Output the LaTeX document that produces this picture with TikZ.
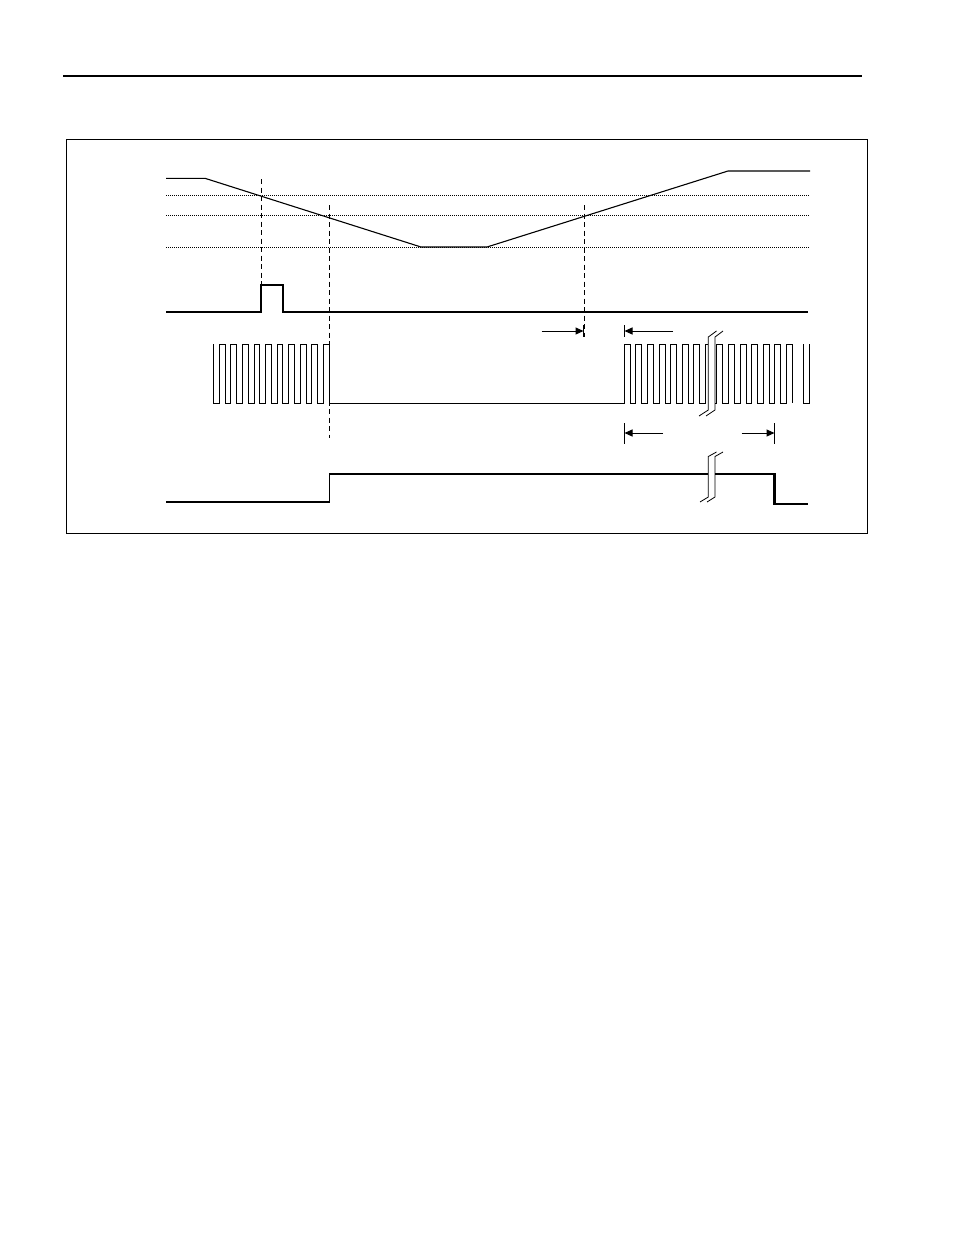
\documentclass[tikz,border=0pt]{standalone}
\usetikzlibrary{arrows.meta}
\begin{document}
\begin{tikzpicture}[x=1pt,y=-1pt,
  sig/.style={line width=1.1pt, line join=miter},
  thin/.style={line width=0.9pt},
  thick sig/.style={line width=2.2pt},
  dotline/.style={line width=0.8pt, dash pattern=on 1pt off 1pt},
  dashline/.style={line width=0.9pt, dash pattern=on 5pt off 3.5pt},
  dimarrow/.style={line width=1pt, -{Triangle[length=8pt,width=7pt]}},
  tick/.style={line width=1.3pt},
  brk/.style={line width=0.8pt, fill=white}]
\useasboundingbox (0,0) rectangle (954,1235);
% header rule and frame
\draw[line width=1.3pt] (63,76) -- (862,76);
\draw[line width=1pt] (66,139) rectangle (867,533);
% threshold dotted levels
\foreach \yy in {195,215,247} \draw[dotline] (166,\yy) -- (810,\yy);
% supply trace
\draw[sig] (166,178.3) -- (205,178.3) -- (421,247) -- (487,247) -- (728,171) -- (810,171);
% dashed markers
\draw[dashline] (261,179) -- (261,285);
\draw[dashline] (329.3,205) -- (329.3,438);
\draw[dashline] (584,205) -- (584,337);
% reset pulse
\draw[sig] (166,312) -- (261,312) -- (261,285) -- (283,285) -- (283,312) -- (808,312);
% clock train
\draw[thin] (213,344) -- (213,403) -- (219.3,403)
  \foreach \k in {0,...,9} { -- ({219.3+11.55*\k},403) -- ({219.3+11.55*\k},344) -- ({225.1+11.55*\k},344) -- ({225.1+11.55*\k},403) }
  -- (624.3,403)
  \foreach \k in {0,...,14} { -- ({624.3+11.57*\k},403) -- ({624.3+11.57*\k},344) -- ({630.3+11.57*\k},344) -- ({630.3+11.57*\k},403) };
\draw[thin] (803,344) -- (803,403) -- (809.3,403) -- (809.3,344);
% break in clock train
\fill[white] (708.3,337) -- (715,337) -- (715,410) -- (708.3,410) -- cycle;
\draw[brk, fill=none] (699,416) -- (708.3,410) -- (708.3,337) -- (716.5,331);
\draw[brk, fill=none] (706,416) -- (715,410) -- (715,337) -- (723,331);
% output trace
\draw[line width=1.3pt] (166,502) -- (329.3,502) -- (329.3,474);
\draw[thick sig] (329.3,474) -- (774.5,474) -- (774.5,504) -- (808,504);
% break in output trace
\fill[white] (708.3,456.5) -- (715,456.5) -- (715,497) -- (708.3,497) -- cycle;
\draw[brk, fill=none] (700,502) -- (708.3,497) -- (708.3,456.5) -- (716.5,452);
\draw[brk, fill=none] (707,502) -- (715,497) -- (715,456.5) -- (723,452);
% dimension arrows (upper)
\coordinate (ua1) at (541.7,331);
\coordinate (ua1e) at (583.5,331);
\coordinate (ua2) at (673,331);
\coordinate (ua2e) at (624.5,331);
\draw[tick] (583.5,325) -- (583.5,337);
\draw[tick] (624.5,325) -- (624.5,337);
\draw[dimarrow] (ua1) -- (ua1e);
\draw[dimarrow] (ua2) -- (ua2e);
% dimension arrows (lower)
\coordinate (la1) at (663,433);
\coordinate (la1e) at (624.5,433);
\coordinate (la2) at (741.7,433);
\coordinate (la2e) at (774.5,433);
\draw[tick] (624.5,423) -- (624.5,444);
\draw[tick] (774.5,423) -- (774.5,444);
\draw[dimarrow] (la1) -- (la1e);
\draw[dimarrow] (la2) -- (la2e);
\end{tikzpicture}
\end{document}
